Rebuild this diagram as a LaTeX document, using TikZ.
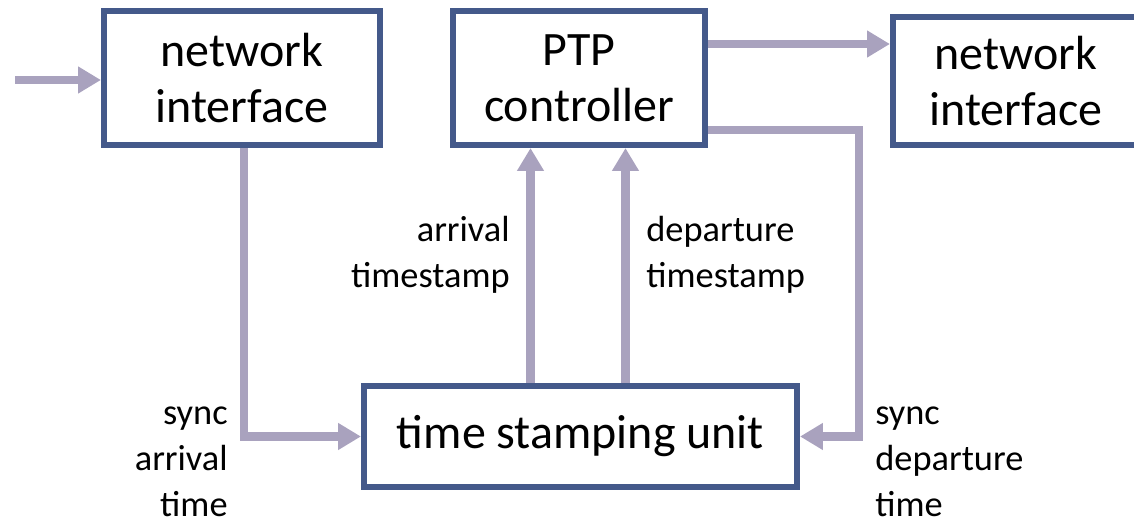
\documentclass[tikz,border=0pt]{standalone}
\usepackage{fontspec}
\setmainfont{Carlito}
\usetikzlibrary{arrows.meta, positioning}
\definecolor{boxedge}{RGB}{68,89,138}
\definecolor{linkgray}{RGB}{169,162,190}

\begin{document}
\begin{tikzpicture}[
  x=0.02cm, y=-0.02cm,
  unit/.style={
    rectangle, draw=boxedge, fill=white, line width=3.5pt,
    align=center, inner sep=0pt,
    font=\fontsize{27.3}{32}\selectfont
  },
  note/.style={font=\fontsize{20.7}{26.2}\selectfont, inner sep=0pt},
  link/.style={-{Triangle[length=13pt, width=14.5pt]}, line width=4.6pt, color=linkgray}
]
  \useasboundingbox (0,0) rectangle (1134,523);

  \node[unit, minimum width=5.52cm, minimum height=2.68cm] (nicin) at (242,78) {network\\interface};
  \node[unit, minimum width=5.04cm, minimum height=2.68cm] (ptp) at (579,78) {PTP\\controller};
  \node[unit, minimum width=4.92cm, minimum height=2.56cm] (nicout) at (1016,81) {network\\interface};
  \node[unit, minimum width=8.66cm, minimum height=2.02cm] (tsu) at (580.5,436.5) {time stamping unit};

  \coordinate (feed) at (15,80);
  \coordinate (bend) at (859,130);

  \draw[link] (feed) -- (feed -| nicin.west);
  \draw[link] ([yshift=0.68cm]ptp.east) -- ([yshift=0.68cm]ptp.east -| nicout.west);
  \draw[link] (bend -| ptp.east) -- (bend) |- (tsu.east);
  \draw[link] ([xshift=0.04cm]nicin.south) |- (tsu.west);
  \draw[link] ([xshift=-1cm]tsu.north) -- ([xshift=-1cm]tsu.north |- ptp.south);
  \draw[link] ([xshift=0.9cm]tsu.north) -- ([xshift=0.9cm]tsu.north |- ptp.south);

  \node[note, anchor=east, align=right] (arrstamp) at (510,255) {arrival\\timestamp};
  \node[note, anchor=west, align=left] (depstamp) at (646,255) {departure\\timestamp};
  \node[note, anchor=east, align=right] (arrsync) at (228,462) {sync\\arrival\\time};
  \node[note, anchor=west, align=left] (depsync) at (875,462) {sync\\departure\\time};
\end{tikzpicture}
\end{document}
